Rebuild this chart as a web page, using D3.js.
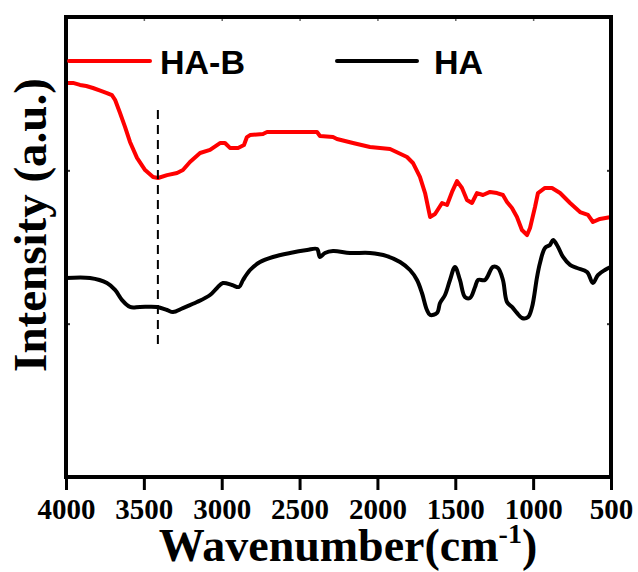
<!DOCTYPE html>
<html>
<head>
<meta charset="utf-8">
<script src="https://cdn.jsdelivr.net/npm/d3@7"></script>
<style>
  html, body { margin: 0; padding: 0; background: #fff; }
  svg { display: block; }
</style>
</head>
<body>
<svg id="chart" width="638" height="572"></svg>
<script>
// FTIR spectra: wavenumber (cm^-1) and intensity (a.u., offset for display)
const haBWavenumber = [4000,3955,3910,3870,3827,3780,3737,3705,3685,3653,3621,3589,3544,3492,3441,3409,3351,3287,3249,3204,3139,3075,3011,2979,2947,2895,2857,2838,2818,2735,2709,2388,2369,2285,2260,2157,2048,1919,1810,1772,1727,1694,1662,1630,1585,1553,1521,1489,1457,1425,1393,1361,1322,1277,1232,1194,1168,1136,1104,1072,1039,1020,988,969,924,879,827,763,699,648,616,571,500];
const haBIntensity  = [2.570,2.570,2.557,2.550,2.537,2.520,2.504,2.490,2.460,2.374,2.283,2.185,2.081,2.002,1.956,1.950,1.969,1.983,2.002,2.054,2.113,2.133,2.178,2.178,2.146,2.146,2.165,2.217,2.230,2.237,2.250,2.250,2.224,2.217,2.204,2.178,2.152,2.139,2.087,2.048,1.957,1.852,1.696,1.715,1.787,1.774,1.859,1.930,1.885,1.807,1.787,1.852,1.839,1.859,1.852,1.839,1.794,1.754,1.696,1.611,1.578,1.624,1.761,1.852,1.885,1.885,1.852,1.787,1.728,1.709,1.663,1.683,1.696];

const haWavenumber = [4000,3846,3737,3685,3640,3589,3525,3416,3351,3313,3249,3159,3075,3030,2992,2934,2889,2863,2818,2754,2671,2561,2452,2388,2369,2337,2285,2176,2048,1939,1855,1791,1746,1714,1682,1662,1617,1598,1566,1534,1502,1470,1438,1406,1373,1354,1309,1258,1226,1194,1168,1136,1104,1072,1033,1007,975,956,924,892,872,840,808,763,718,654,616,584,539,500];
const haIntensity  = [1.298,1.298,1.265,1.220,1.154,1.109,1.109,1.109,1.089,1.076,1.102,1.141,1.187,1.233,1.265,1.252,1.239,1.285,1.350,1.402,1.435,1.461,1.480,1.487,1.435,1.461,1.474,1.461,1.461,1.441,1.402,1.350,1.285,1.200,1.089,1.057,1.070,1.135,1.187,1.285,1.370,1.285,1.174,1.167,1.239,1.285,1.285,1.370,1.363,1.285,1.141,1.109,1.070,1.037,1.043,1.109,1.304,1.396,1.494,1.513,1.546,1.500,1.435,1.383,1.363,1.337,1.265,1.317,1.350,1.370];

const xTicks = [4000, 3500, 3000, 2500, 2000, 1500, 1000, 500];
const yTicks = [0, 1, 2, 3];

// O-H stretching band marker
const markerWavenumber = 3410;
const markerIntensity = [2.393, 0.861];

const seriesNames = ["HA-B", "HA"];
const seriesColors = ["#ff0000", "#000000"];

const svg = d3.select("#chart");
const plotLeft = 66, plotRight = 611, plotTop = 17, plotBottom = 477;

const x = d3.scaleLinear().domain([4000, 500]).range([plotLeft, plotRight]);
const y = d3.scaleLinear().domain([0, 3]).range([plotBottom, plotTop]);

const serif = "'Liberation Serif', 'Times New Roman', Times, serif";
const sans = "'Liberation Sans', Arial, Helvetica, sans-serif";

// Bottom axis with labelled outward ticks
const xAxis = svg.append("g")
  .attr("transform", `translate(0,${plotBottom})`)
  .call(d3.axisBottom(x).tickValues(xTicks).tickSize(13).tickPadding(8).tickFormat(d3.format("d")));
xAxis.select(".domain").remove();
xAxis.selectAll(".tick line").attr("stroke", "#000").attr("stroke-width", 3);
xAxis.selectAll(".tick text")
  .attr("font-family", serif).attr("font-weight", "bold").attr("font-size", 29).attr("fill", "#000");

// Top axis: small inward ticks only
const xTop = svg.append("g")
  .attr("transform", `translate(0,${plotTop})`)
  .call(d3.axisBottom(x).tickValues(xTicks).tickSize(4).tickFormat(""));
xTop.select(".domain").remove();
xTop.selectAll(".tick line").attr("stroke", "#666").attr("stroke-width", 1.5);

// Left and right axes: small inward ticks, no labels
const yLeft = svg.append("g")
  .attr("transform", `translate(${plotLeft},0)`)
  .call(d3.axisRight(y).tickValues(yTicks).tickSize(4).tickFormat(""));
yLeft.select(".domain").remove();
yLeft.selectAll(".tick line").attr("stroke", "#333").attr("stroke-width", 2);

const yRight = svg.append("g")
  .attr("transform", `translate(${plotRight},0)`)
  .call(d3.axisLeft(y).tickValues(yTicks).tickSize(4).tickFormat(""));
yRight.select(".domain").remove();
yRight.selectAll(".tick line").attr("stroke", "#333").attr("stroke-width", 2);

// Spectra: the HA-B trace is noisy, the HA trace smooth
const curves = [d3.curveLinear, d3.curveCatmullRom.alpha(0.5)];
const series = [
  d3.zip(haBWavenumber, haBIntensity),
  d3.zip(haWavenumber, haIntensity)
];
series.forEach((pts, i) => {
  const line = d3.line().x(d => x(d[0])).y(d => y(d[1])).curve(curves[i]);
  svg.append("path")
    .datum(pts)
    .attr("fill", "none")
    .attr("stroke", seriesColors[i])
    .attr("stroke-width", 4)
    .attr("stroke-linejoin", "round")
    .attr("d", line);
});

// Dashed marker line
svg.append("line")
  .attr("x1", x(markerWavenumber)).attr("x2", x(markerWavenumber))
  .attr("y1", y(markerIntensity[0])).attr("y2", y(markerIntensity[1]))
  .attr("stroke", "#000").attr("stroke-width", 2)
  .attr("stroke-dasharray", "9,6");

// Frame
svg.append("rect")
  .attr("x", plotLeft).attr("y", plotTop)
  .attr("width", plotRight - plotLeft).attr("height", plotBottom - plotTop)
  .attr("fill", "none").attr("stroke", "#000").attr("stroke-width", 4);

// Legend
const legendItems = [
  { name: seriesNames[0], color: seriesColors[0], x0: 69, x1: 150, tx: 160 },
  { name: seriesNames[1], color: seriesColors[1], x0: 337, x1: 417, tx: 434 }
];
legendItems.forEach(d => {
  svg.append("line")
    .attr("x1", d.x0).attr("x2", d.x1).attr("y1", 61).attr("y2", 61)
    .attr("stroke", d.color).attr("stroke-width", 4).attr("stroke-linecap", "round");
  svg.append("text")
    .attr("x", d.tx).attr("y", 74)
    .attr("font-family", sans).attr("font-weight", "bold").attr("font-size", 34)
    .attr("fill", "#000")
    .text(d.name);
});

// Axis titles
const xTitle = svg.append("text")
  .attr("x", 348).attr("y", 561)
  .attr("text-anchor", "middle")
  .attr("font-family", serif).attr("font-weight", "bold").attr("font-size", 46)
  .attr("fill", "#000");
xTitle.append("tspan").text("Wavenumber(cm");
xTitle.append("tspan").attr("dy", -18).attr("font-size", 28).text("-1");
xTitle.append("tspan").attr("dy", 18).text(")");

svg.append("text")
  .attr("transform", "translate(46,225) rotate(-90)")
  .attr("text-anchor", "middle")
  .attr("font-family", serif).attr("font-weight", "bold").attr("font-size", 47)
  .attr("fill", "#000")
  .text("Intensity (a.u.)");
</script>
</body>
</html>
